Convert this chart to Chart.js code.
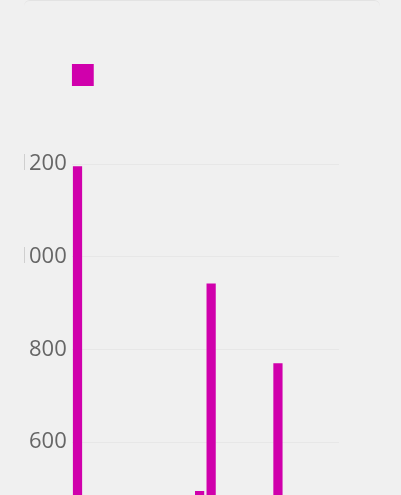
<!DOCTYPE html>
<html>
<head>
<meta charset="utf-8">
<script src="https://cdn.jsdelivr.net/npm/chart.js@4.4.1/dist/chart.umd.min.js"></script>
<style>
  html, body { margin: 0; padding: 0; background: #f0f0f0; overflow: hidden; }
  #card {
    position: absolute; left: 24px; top: 0; width: 356px; height: 520px;
    border-top: 1px solid #e3e3e3; border-radius: 6px 6px 0 0; overflow: hidden;
  }
  #wrap { position: absolute; left: -7px; top: -1px; width: 380px; height: 760px; }
</style>
</head>
<body>
<div id="card"><div id="wrap"><canvas id="myChart"></canvas></div></div>
<script>
var categorias = ['1', '2', '3', '4', '5'];
var serieA = [320, 300, 494, 400, 300];
var serieB = [1195, 360, 942, 770, 280];
var yMin = 0, yMax = 1200, yPaso = 200;
var magenta = '#d000ac';

var ctx = document.getElementById('myChart').getContext('2d');
var myChart = new Chart(ctx, {
    type: 'bar',
    data: {
        labels: categorias,
        datasets: [{
            label: '',
            data: serieA,
            backgroundColor: magenta,
            borderWidth: 0,
            barPercentage: 0.8,
            categoryPercentage: 0.345
        }, {
            label: '',
            data: serieB,
            backgroundColor: magenta,
            borderWidth: 0,
            barPercentage: 0.8,
            categoryPercentage: 0.345
        }]
    },
    options: {
        responsive: true,
        maintainAspectRatio: false,
        animation: false,
        layout: { padding: { top: 64, left: 0, right: 58, bottom: 0 } },
        plugins: {
            tooltip: { enabled: false },
            legend: {
                position: 'top',
                align: 'start',
                fullSize: false,
                labels: {
                    boxWidth: 22,
                    boxHeight: 22,
                    padding: 0,
                    font: { size: 12 },
                    filter: function (item) { return item.datasetIndex === 1; }
                }
            },
            // espacio vacio entre leyenda y grafico
            title: {
                display: true,
                text: '',
                weight: 500,
                fullSize: false,
                font: { size: 12, lineHeight: 1.2 },
                padding: { top: 0, bottom: 53.6 }
            }
        },
        scales: {
            x: {
                offset: false,
                grid: { display: false, offset: false },
                border: { display: false },
                ticks: { color: '#666', font: { family: 'Open Sans', size: 22 } },
                afterFit: function (s) { s.height = 40; }
            },
            y: {
                min: yMin,
                max: yMax,
                border: { display: false },
                grid: { color: 'rgba(0,0,0,0.035)', drawTicks: false },
                ticks: {
                    stepSize: yPaso,
                    padding: 5,
                    color: '#666',
                    font: { family: 'Open Sans', size: 22 },
                    callback: function (v) { return String(v); }
                },
                afterFit: function (s) { s.width = 54.75; }
            }
        }
    }
});
</script>
</body>
</html>
